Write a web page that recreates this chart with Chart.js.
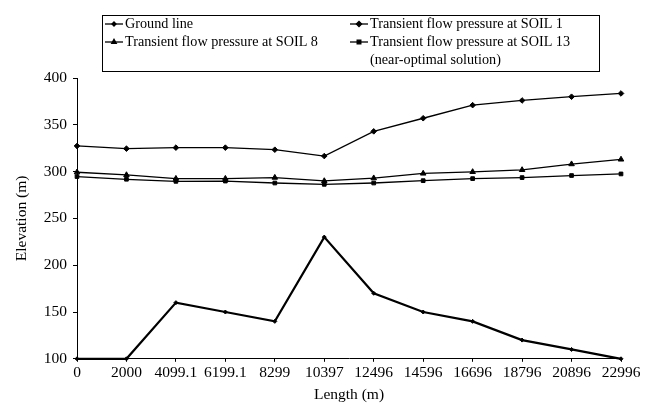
<!DOCTYPE html>
<html>
<head>
<meta charset="utf-8">
<script src="https://cdn.jsdelivr.net/npm/chart.js@4"></script>
<style>
  html, body { margin: 0; padding: 0; background: #fff; }
  #wrap { width: 654px; height: 404px; position: relative; }
</style>
</head>
<body>
<div id="wrap"><canvas id="chart" width="654" height="404"></canvas></div>
<script>
// Categories along the pipeline (m)
const lengths = ['0', '2000', '4099.1', '6199.1', '8299', '10397', '12496', '14596', '16696', '18796', '20896', '22996'];

// Elevation series (m)
const groundLine = [100, 100, 160, 150, 140, 230, 170, 150, 140, 120, 110, 100];
const soil1 = [327.4, 324.5, 325.6, 325.6, 323.4, 316.6, 343, 357, 371, 376, 380, 383.5];
const soil8 = [299.3, 296.4, 292.5, 292.5, 293.6, 290, 293, 298, 299.7, 301.8, 308, 313];
const soil13 = [294.7, 291.8, 289.6, 289.9, 287.8, 286.4, 287.8, 290.3, 292.5, 293.6, 295.8, 297.5];

const yTicks = [100, 150, 200, 250, 300, 350, 400];

const FONT = "'Liberation Serif', 'Times New Roman', serif";

// Boxed two-column legend drawn above the plot
const boxLegend = {
    id: 'boxLegend',
    afterDraw(chart) {
        const ctx = chart.ctx;
        ctx.save();
        ctx.strokeStyle = '#000';
        ctx.lineWidth = 1;
        ctx.strokeRect(102.5, 15.5, 497, 56);
        ctx.font = '14.2px ' + FONT;
        ctx.fillStyle = '#000';
        ctx.textBaseline = 'middle';
        const items = [
            { ds: 0, x: 105, y: 24, text: ['Ground line'] },
            { ds: 1, x: 350, y: 24, text: ['Transient flow pressure at SOIL 1'] },
            { ds: 2, x: 105, y: 42, text: ['Transient flow pressure at SOIL 8'] },
            { ds: 3, x: 350, y: 42, text: ['Transient flow pressure at SOIL 13', '(near-optimal solution)'] }
        ];
        items.forEach(it => {
            const d = chart.data.datasets[it.ds];
            ctx.beginPath();
            ctx.lineWidth = 1.3;
            ctx.moveTo(it.x, it.y);
            ctx.lineTo(it.x + 18, it.y);
            ctx.stroke();
            Chart.helpers.drawPoint(ctx, {
                pointStyle: d.pointStyle,
                radius: Math.min(d.pointRadius, 2.6),
                borderWidth: 1
            }, it.x + 9, it.y);
            it.text.forEach((t, i) => {
                ctx.fillText(t, it.x + 20, it.y + i * 18.3);
            });
        });
        ctx.restore();
    }
};

const commonDs = {
    borderColor: '#000',
    backgroundColor: '#000',
    pointBackgroundColor: '#000',
    pointBorderColor: '#000',
    pointBorderWidth: 1,
    tension: 0,
    fill: false,
    clip: 6
};

new Chart(document.getElementById('chart'), {
    type: 'line',
    data: {
        labels: lengths,
        datasets: [
            Object.assign({}, commonDs, { label: 'Ground line', data: groundLine, borderWidth: 2.2, pointStyle: 'rectRot', pointRadius: 2 }),
            Object.assign({}, commonDs, { label: 'Transient flow pressure at SOIL 1', data: soil1, borderWidth: 1.3, pointStyle: 'rectRot', pointRadius: 2.8 }),
            Object.assign({}, commonDs, { label: 'Transient flow pressure at SOIL 8', data: soil8, borderWidth: 1.3, pointStyle: 'triangle', pointRadius: 3.2 }),
            Object.assign({}, commonDs, { label: 'Transient flow pressure at SOIL 13 (near-optimal solution)', data: soil13, borderWidth: 1.3, pointStyle: 'rect', pointRadius: 2.6 })
        ]
    },
    options: {
        responsive: false,
        animation: false,
        layout: { padding: { top: 78, right: 33, left: 0, bottom: 0 } },
        plugins: {
            legend: { display: false },
            tooltip: { enabled: false }
        },
        scales: {
            x: {
                offset: false,
                grid: { display: true, drawOnChartArea: false, color: '#000', tickLength: 3 },
                border: { color: '#000', width: 1 },
                ticks: {
                    color: '#000',
                    maxRotation: 0,
                    autoSkip: false,
                    padding: 2,
                    font: { family: FONT, size: 15.5 }
                },
                title: {
                    display: true,
                    text: 'Length (m)',
                    color: '#000',
                    padding: { top: 1, bottom: 0 },
                    font: { family: FONT, size: 15.5 }
                }
            },
            y: {
                min: 100,
                max: 400,
                afterBuildTicks: axis => { axis.ticks = yTicks.map(v => ({ value: v })); },
                afterFit: axis => { axis.width = 77; },
                grid: { display: true, drawOnChartArea: false, color: '#000', tickLength: 4 },
                border: { color: '#000', width: 1 },
                ticks: {
                    color: '#000',
                    padding: 6,
                    font: { family: FONT, size: 15.5 }
                },
                title: {
                    display: true,
                    text: 'Elevation (m)',
                    color: '#000',
                    padding: { top: 12.7, bottom: 0 },
                    font: { family: FONT, size: 15.5 }
                }
            }
        }
    },
    plugins: [boxLegend]
});
</script>
</body>
</html>
